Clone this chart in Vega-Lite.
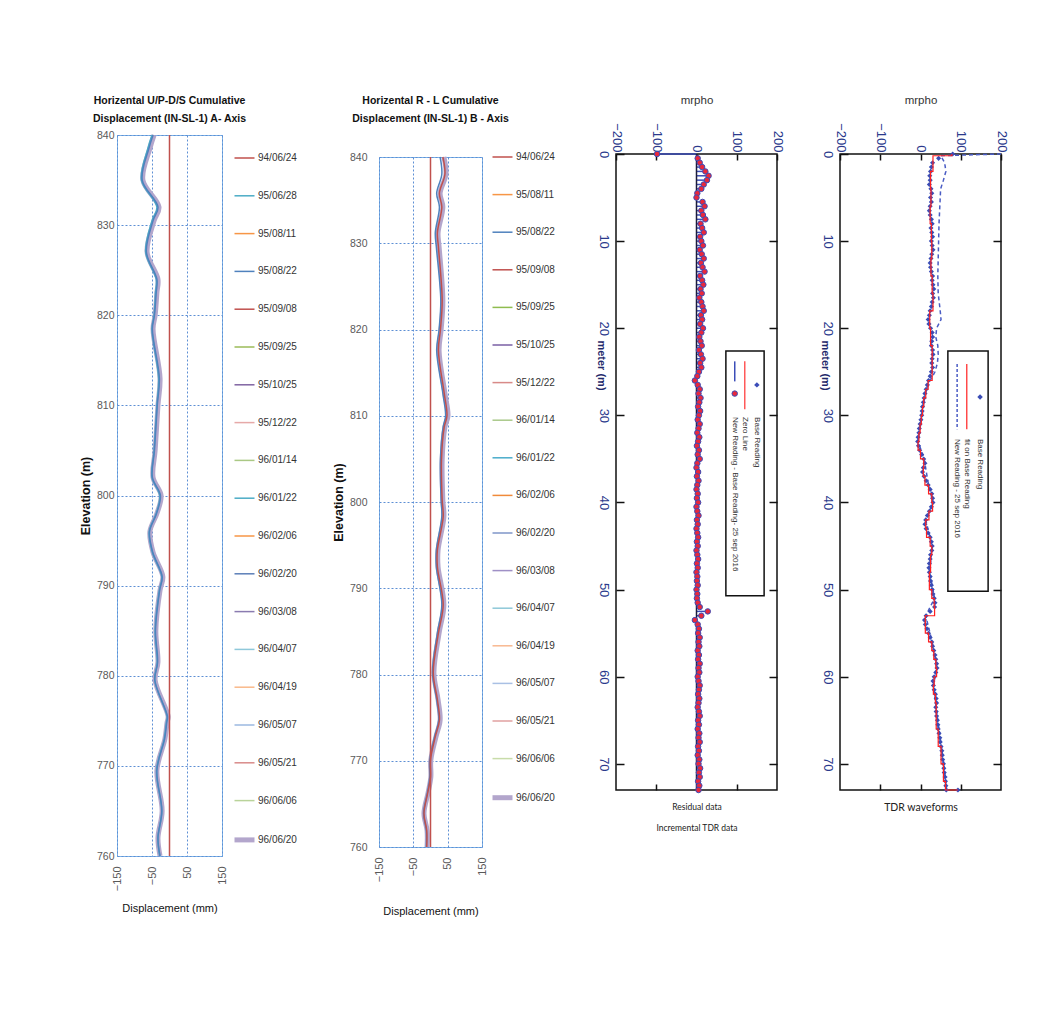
{
"$schema":"https://vega.github.io/schema/vega-lite/v6.json",
"background":"white",
"padding":{"left":78,"top":92,"right":0,"bottom":0},
"spacing":34,
"config":{"font":"Liberation Sans","axis":{"labelFlush":false,"labelOverlap":false,"domain":false,"ticks":false,"grid":false},"legend":{"labelLimit":200}},
"resolve":{"scale":{"color":"independent","strokeWidth":"independent"}},
"datasets":{
"incA":[
{"date":"96/06/20","elev":840,"disp":-44},{"date":"96/06/20","elev":838.5,"disp":-56},{"date":"96/06/20","elev":835,"disp":-76},{"date":"96/06/20","elev":832,"disp":-30},{"date":"96/06/20","elev":830.5,"disp":-44},{"date":"96/06/20","elev":827,"disp":-64},{"date":"96/06/20","elev":824,"disp":-33},{"date":"96/06/20","elev":822.5,"disp":-36},{"date":"96/06/20","elev":820,"disp":-41},{"date":"96/06/20","elev":818.5,"disp":-47},{"date":"96/06/20","elev":813,"disp":-27},{"date":"96/06/20","elev":810,"disp":-33},{"date":"96/06/20","elev":805,"disp":-41},{"date":"96/06/20","elev":802,"disp":-47},{"date":"96/06/20","elev":800,"disp":-24},{"date":"96/06/20","elev":798,"disp":-36},{"date":"96/06/20","elev":796,"disp":-56},{"date":"96/06/20","elev":793.7,"disp":-47},{"date":"96/06/20","elev":791,"disp":-19},{"date":"96/06/20","elev":789.5,"disp":-27},{"date":"96/06/20","elev":785,"disp":-39},{"date":"96/06/20","elev":781.5,"disp":-33},{"date":"96/06/20","elev":779.5,"disp":-41},{"date":"96/06/20","elev":775.5,"disp":-4},{"date":"96/06/20","elev":774.8,"disp":-7},{"date":"96/06/20","elev":773,"disp":-13},{"date":"96/06/20","elev":769.5,"disp":-36},{"date":"96/06/20","elev":765,"disp":-21},{"date":"96/06/20","elev":762,"disp":-33},{"date":"96/06/20","elev":760,"disp":-27},
{"date":"95/06/28","elev":840,"disp":-50},{"date":"95/06/28","elev":838.5,"disp":-62},{"date":"95/06/28","elev":835,"disp":-80},{"date":"95/06/28","elev":832,"disp":-36},{"date":"95/06/28","elev":830.5,"disp":-50},{"date":"95/06/28","elev":827,"disp":-68},{"date":"95/06/28","elev":824,"disp":-38},{"date":"95/06/28","elev":822.5,"disp":-40},{"date":"95/06/28","elev":820,"disp":-44},{"date":"95/06/28","elev":818.5,"disp":-50},{"date":"95/06/28","elev":813,"disp":-31},{"date":"95/06/28","elev":810,"disp":-36},{"date":"95/06/28","elev":805,"disp":-44},{"date":"95/06/28","elev":802,"disp":-50},{"date":"95/06/28","elev":800,"disp":-28},{"date":"95/06/28","elev":798,"disp":-38},{"date":"95/06/28","elev":796,"disp":-58},{"date":"95/06/28","elev":793.7,"disp":-49},{"date":"95/06/28","elev":791,"disp":-22},{"date":"95/06/28","elev":789.5,"disp":-29},{"date":"95/06/28","elev":785,"disp":-41},{"date":"95/06/28","elev":781.5,"disp":-35},{"date":"95/06/28","elev":779.5,"disp":-42},{"date":"95/06/28","elev":775.5,"disp":-7},{"date":"95/06/28","elev":774.8,"disp":-9},{"date":"95/06/28","elev":773,"disp":-15},{"date":"95/06/28","elev":769.5,"disp":-37},{"date":"95/06/28","elev":765,"disp":-22},{"date":"95/06/28","elev":762,"disp":-33},{"date":"95/06/28","elev":760,"disp":-28},
{"date":"95/08/22","elev":840,"disp":-47},{"date":"95/08/22","elev":838.5,"disp":-59},{"date":"95/08/22","elev":835,"disp":-78},{"date":"95/08/22","elev":832,"disp":-33},{"date":"95/08/22","elev":830.5,"disp":-47},{"date":"95/08/22","elev":827,"disp":-66},{"date":"95/08/22","elev":824,"disp":-36},{"date":"95/08/22","elev":822.5,"disp":-38},{"date":"95/08/22","elev":820,"disp":-43},{"date":"95/08/22","elev":818.5,"disp":-49},{"date":"95/08/22","elev":813,"disp":-29},{"date":"95/08/22","elev":810,"disp":-35},{"date":"95/08/22","elev":805,"disp":-43},{"date":"95/08/22","elev":802,"disp":-49},{"date":"95/08/22","elev":800,"disp":-26},{"date":"95/08/22","elev":798,"disp":-37},{"date":"95/08/22","elev":796,"disp":-57},{"date":"95/08/22","elev":793.7,"disp":-48},{"date":"95/08/22","elev":791,"disp":-21},{"date":"95/08/22","elev":789.5,"disp":-28},{"date":"95/08/22","elev":785,"disp":-40},{"date":"95/08/22","elev":781.5,"disp":-34},{"date":"95/08/22","elev":779.5,"disp":-42},{"date":"95/08/22","elev":775.5,"disp":-6},{"date":"95/08/22","elev":774.8,"disp":-8},{"date":"95/08/22","elev":773,"disp":-14},{"date":"95/08/22","elev":769.5,"disp":-36},{"date":"95/08/22","elev":765,"disp":-22},{"date":"95/08/22","elev":762,"disp":-33},{"date":"95/08/22","elev":760,"disp":-27},
{"date":"94/06/24","elev":840,"disp":0},{"date":"94/06/24","elev":760,"disp":0}
],
"incB":[
{"date":"96/06/20","elev":840,"disp":39},{"date":"96/06/20","elev":838,"disp":45},{"date":"96/06/20","elev":835.8,"disp":28},{"date":"96/06/20","elev":834.2,"disp":36},{"date":"96/06/20","elev":831.2,"disp":22},{"date":"96/06/20","elev":829.6,"disp":25},{"date":"96/06/20","elev":823.4,"disp":36},{"date":"96/06/20","elev":820,"disp":31},{"date":"96/06/20","elev":817.6,"disp":25},{"date":"96/06/20","elev":812.6,"disp":42},{"date":"96/06/20","elev":810,"disp":51},{"date":"96/06/20","elev":808.7,"disp":42},{"date":"96/06/20","elev":804.9,"disp":34},{"date":"96/06/20","elev":800.2,"disp":36},{"date":"96/06/20","elev":798.3,"disp":39},{"date":"96/06/20","elev":794.4,"disp":22},{"date":"96/06/20","elev":792.5,"disp":22},{"date":"96/06/20","elev":788.1,"disp":39},{"date":"96/06/20","elev":784.8,"disp":25},{"date":"96/06/20","elev":780.2,"disp":10},{"date":"96/06/20","elev":777.1,"disp":22},{"date":"96/06/20","elev":774.7,"disp":28},{"date":"96/06/20","elev":772.8,"disp":16},{"date":"96/06/20","elev":770.1,"disp":1},{"date":"96/06/20","elev":768.1,"disp":1},{"date":"96/06/20","elev":766.3,"disp":-7},{"date":"96/06/20","elev":763.9,"disp":-19},{"date":"96/06/20","elev":761.9,"disp":-10},{"date":"96/06/20","elev":760,"disp":-10},
{"date":"95/08/22","elev":840,"disp":28},{"date":"95/08/22","elev":838,"disp":33},{"date":"95/08/22","elev":835.8,"disp":18},{"date":"95/08/22","elev":834.2,"disp":26},{"date":"95/08/22","elev":831.2,"disp":14},{"date":"95/08/22","elev":829.6,"disp":17},{"date":"95/08/22","elev":823.4,"disp":30},{"date":"95/08/22","elev":820,"disp":25},{"date":"95/08/22","elev":817.6,"disp":18},{"date":"95/08/22","elev":812.6,"disp":36},{"date":"95/08/22","elev":810,"disp":44},{"date":"95/08/22","elev":808.7,"disp":37},{"date":"95/08/22","elev":804.9,"disp":29},{"date":"95/08/22","elev":800.2,"disp":31},{"date":"95/08/22","elev":798.3,"disp":33},{"date":"95/08/22","elev":794.4,"disp":17},{"date":"95/08/22","elev":792.5,"disp":17},{"date":"95/08/22","elev":788.1,"disp":33},{"date":"95/08/22","elev":784.8,"disp":20},{"date":"95/08/22","elev":780.2,"disp":6},{"date":"95/08/22","elev":777.1,"disp":18},{"date":"95/08/22","elev":774.7,"disp":24},{"date":"95/08/22","elev":772.8,"disp":12},{"date":"95/08/22","elev":770.1,"disp":-2},{"date":"95/08/22","elev":768.1,"disp":-2},{"date":"95/08/22","elev":766.3,"disp":-9},{"date":"95/08/22","elev":763.9,"disp":-20},{"date":"95/08/22","elev":761.9,"disp":-12},{"date":"95/08/22","elev":760,"disp":-12},
{"date":"95/09/08","elev":840,"disp":36},{"date":"95/09/08","elev":838,"disp":42},{"date":"95/09/08","elev":835.8,"disp":26},{"date":"95/09/08","elev":834.2,"disp":33},{"date":"95/09/08","elev":831.2,"disp":20},{"date":"95/09/08","elev":829.6,"disp":23},{"date":"95/09/08","elev":823.4,"disp":34},{"date":"95/09/08","elev":820,"disp":29},{"date":"95/09/08","elev":817.6,"disp":23},{"date":"95/09/08","elev":812.6,"disp":40},{"date":"95/09/08","elev":810,"disp":48},{"date":"95/09/08","elev":808.7,"disp":40},{"date":"95/09/08","elev":804.9,"disp":32},{"date":"95/09/08","elev":800.2,"disp":34},{"date":"95/09/08","elev":798.3,"disp":37},{"date":"95/09/08","elev":794.4,"disp":20},{"date":"95/09/08","elev":792.5,"disp":20},{"date":"95/09/08","elev":788.1,"disp":37},{"date":"95/09/08","elev":784.8,"disp":23},{"date":"95/09/08","elev":780.2,"disp":8},{"date":"95/09/08","elev":777.1,"disp":20},{"date":"95/09/08","elev":774.7,"disp":26},{"date":"95/09/08","elev":772.8,"disp":14},{"date":"95/09/08","elev":770.1,"disp":0},{"date":"95/09/08","elev":768.1,"disp":0},{"date":"95/09/08","elev":766.3,"disp":-8},{"date":"95/09/08","elev":763.9,"disp":-19},{"date":"95/09/08","elev":761.9,"disp":-11},{"date":"95/09/08","elev":760,"disp":-11},
{"date":"94/06/24","elev":840,"disp":0},{"date":"94/06/24","elev":760,"disp":0}
],
"res":[
{"m":0,"v":-98},{"m":0.5,"v":3},{"m":1,"v":8},{"m":1.5,"v":14},{"m":2,"v":22},{"m":2.5,"v":30},{"m":3,"v":26},{"m":3.5,"v":18},{"m":4,"v":12},{"m":4.5,"v":2},{"m":5,"v":0},{"m":5.5,"v":15},{"m":6,"v":20},{"m":6.5,"v":12},{"m":7,"v":16},{"m":7.5,"v":22},{"m":8,"v":10},{"m":8.5,"v":14},{"m":9,"v":18},{"m":9.5,"v":9},{"m":10,"v":12},{"m":10.5,"v":16},{"m":11,"v":8},{"m":11.5,"v":13},{"m":12,"v":18},{"m":12.5,"v":11},{"m":13,"v":15},{"m":13.5,"v":20},{"m":14,"v":9},{"m":14.5,"v":14},{"m":15,"v":17},{"m":15.5,"v":10},{"m":16,"v":13},{"m":16.5,"v":7},{"m":17,"v":12},{"m":17.5,"v":15},{"m":18,"v":18},{"m":18.5,"v":11},{"m":19,"v":14},{"m":19.5,"v":9},{"m":20,"v":16},{"m":20.5,"v":12},{"m":21,"v":7},{"m":21.5,"v":10},{"m":22,"v":13},{"m":22.5,"v":6},{"m":23,"v":11},{"m":23.5,"v":15},{"m":24,"v":9},{"m":24.5,"v":12},{"m":25,"v":6},{"m":25.5,"v":2},{"m":26,"v":-4},{"m":26.5,"v":3},{"m":27,"v":8},{"m":27.5,"v":5},{"m":28,"v":10},{"m":28.5,"v":7},{"m":29,"v":4},{"m":29.5,"v":9},{"m":30,"v":6},{"m":30.5,"v":3},{"m":31,"v":8},{"m":31.5,"v":5},{"m":32,"v":2},{"m":32.5,"v":7},{"m":33,"v":4},{"m":33.5,"v":1},{"m":34,"v":6},{"m":34.5,"v":3},{"m":35,"v":8},{"m":35.5,"v":2},{"m":36,"v":0},{"m":36.5,"v":4},{"m":37,"v":1},{"m":37.5,"v":5},{"m":38,"v":2},{"m":38.5,"v":0},{"m":39,"v":3},{"m":39.5,"v":1},{"m":40,"v":4},{"m":40.5,"v":0},{"m":41,"v":2},{"m":41.5,"v":5},{"m":42,"v":1},{"m":42.5,"v":3},{"m":43,"v":0},{"m":43.5,"v":2},{"m":44,"v":4},{"m":44.5,"v":1},{"m":45,"v":3},{"m":45.5,"v":0},{"m":46,"v":2},{"m":46.5,"v":4},{"m":47,"v":1},{"m":47.5,"v":3},{"m":48,"v":0},{"m":48.5,"v":2},{"m":49,"v":1},{"m":49.5,"v":3},{"m":50,"v":0},{"m":50.5,"v":2},{"m":51,"v":1},{"m":51.5,"v":3},{"m":52,"v":8},{"m":52.5,"v":28},{"m":53,"v":12},{"m":53.5,"v":-4},{"m":54,"v":3},{"m":54.5,"v":6},{"m":55,"v":4},{"m":55.5,"v":8},{"m":56,"v":5},{"m":56.5,"v":7},{"m":57,"v":3},{"m":57.5,"v":6},{"m":58,"v":4},{"m":58.5,"v":8},{"m":59,"v":5},{"m":59.5,"v":7},{"m":60,"v":3},{"m":60.5,"v":5},{"m":61,"v":8},{"m":61.5,"v":6},{"m":62,"v":4},{"m":62.5,"v":7},{"m":63,"v":5},{"m":63.5,"v":3},{"m":64,"v":6},{"m":64.5,"v":8},{"m":65,"v":4},{"m":65.5,"v":6},{"m":66,"v":3},{"m":66.5,"v":7},{"m":67,"v":5},{"m":67.5,"v":8},{"m":68,"v":4},{"m":68.5,"v":6},{"m":69,"v":3},{"m":69.5,"v":7},{"m":70,"v":5},{"m":70.5,"v":9},{"m":71,"v":6},{"m":71.5,"v":8},{"m":72,"v":4},{"m":72.5,"v":7},{"m":73,"v":5}
],
"base":[
{"m":0,"v":80},{"m":0.5,"v":45},{"m":1,"v":30},{"m":1.5,"v":27},{"m":2,"v":25},{"m":2.5,"v":23},{"m":3,"v":24},{"m":3.5,"v":22},{"m":4,"v":26},{"m":4.5,"v":28},{"m":5,"v":25},{"m":5.5,"v":27},{"m":6,"v":24},{"m":6.5,"v":22},{"m":7,"v":24},{"m":7.5,"v":27},{"m":8,"v":29},{"m":8.5,"v":26},{"m":9,"v":28},{"m":9.5,"v":30},{"m":10,"v":27},{"m":10.5,"v":29},{"m":11,"v":31},{"m":11.5,"v":28},{"m":12,"v":26},{"m":12.5,"v":24},{"m":13,"v":25},{"m":13.5,"v":27},{"m":14,"v":30},{"m":14.5,"v":29},{"m":15,"v":31},{"m":15.5,"v":33},{"m":16,"v":30},{"m":16.5,"v":32},{"m":17,"v":29},{"m":17.5,"v":27},{"m":18,"v":24},{"m":18.5,"v":22},{"m":19,"v":19},{"m":19.5,"v":21},{"m":20,"v":25},{"m":20.5,"v":29},{"m":21,"v":30},{"m":21.5,"v":28},{"m":22,"v":27},{"m":22.5,"v":30},{"m":23,"v":31},{"m":23.5,"v":29},{"m":24,"v":28},{"m":24.5,"v":30},{"m":25,"v":27},{"m":25.5,"v":24},{"m":26,"v":20},{"m":26.5,"v":17},{"m":27,"v":14},{"m":27.5,"v":11},{"m":28,"v":9},{"m":28.5,"v":7},{"m":29,"v":5},{"m":29.5,"v":4},{"m":30,"v":3},{"m":30.5,"v":1},{"m":31,"v":-1},{"m":31.5,"v":-3},{"m":32,"v":-4},{"m":32.5,"v":-6},{"m":33,"v":-7},{"m":33.5,"v":-5},{"m":34,"v":-2},{"m":34.5,"v":3},{"m":35,"v":8},{"m":35.5,"v":11},{"m":36,"v":7},{"m":36.5,"v":5},{"m":37,"v":9},{"m":37.5,"v":14},{"m":38,"v":19},{"m":38.5,"v":24},{"m":39,"v":28},{"m":39.5,"v":30},{"m":40,"v":31},{"m":40.5,"v":27},{"m":41,"v":22},{"m":41.5,"v":17},{"m":42,"v":13},{"m":42.5,"v":11},{"m":43,"v":14},{"m":43.5,"v":19},{"m":44,"v":24},{"m":44.5,"v":27},{"m":45,"v":29},{"m":45.5,"v":28},{"m":46,"v":25},{"m":46.5,"v":24},{"m":47,"v":22},{"m":47.5,"v":21},{"m":48,"v":22},{"m":48.5,"v":24},{"m":49,"v":25},{"m":49.5,"v":27},{"m":50,"v":29},{"m":50.5,"v":31},{"m":51,"v":34},{"m":51.5,"v":36},{"m":52,"v":35},{"m":52.5,"v":24},{"m":53,"v":14},{"m":53.5,"v":10},{"m":54,"v":12},{"m":54.5,"v":16},{"m":55,"v":20},{"m":55.5,"v":24},{"m":56,"v":28},{"m":56.5,"v":30},{"m":57,"v":33},{"m":57.5,"v":36},{"m":58,"v":38},{"m":58.5,"v":40},{"m":59,"v":41},{"m":59.5,"v":38},{"m":60,"v":34},{"m":60.5,"v":31},{"m":61,"v":32},{"m":61.5,"v":34},{"m":62,"v":37},{"m":62.5,"v":39},{"m":63,"v":40},{"m":63.5,"v":38},{"m":64,"v":39},{"m":64.5,"v":40},{"m":65,"v":42},{"m":65.5,"v":43},{"m":66,"v":44},{"m":66.5,"v":46},{"m":67,"v":48},{"m":67.5,"v":49},{"m":68,"v":51},{"m":68.5,"v":53},{"m":69,"v":54},{"m":69.5,"v":55},{"m":70,"v":57},{"m":70.5,"v":58},{"m":71,"v":59},{"m":71.5,"v":61},{"m":72,"v":62},{"m":72.5,"v":63},{"m":73,"v":64},{"m":73,"v":93}
],
"fit":[
{"m":0,"v":78},{"m":0.2,"v":31},{"m":2,"v":25},{"m":4,"v":26},{"m":6,"v":24},{"m":8,"v":27},{"m":10,"v":28},{"m":12,"v":26},{"m":14,"v":29},{"m":16,"v":31},{"m":18,"v":23},{"m":20,"v":25},{"m":22,"v":29},{"m":24,"v":29},{"m":26,"v":19},{"m":27,"v":13},{"m":28,"v":8},{"m":29,"v":5},{"m":30,"v":2},{"m":31,"v":-1},{"m":32,"v":-4},{"m":33,"v":-6},{"m":34,"v":0},{"m":35,"v":8},{"m":36,"v":7},{"m":37,"v":11},{"m":38,"v":20},{"m":39,"v":28},{"m":40,"v":30},{"m":41,"v":21},{"m":42,"v":13},{"m":43,"v":15},{"m":44,"v":24},{"m":45,"v":28},{"m":46,"v":25},{"m":48,"v":22},{"m":50,"v":28},{"m":51,"v":34},{"m":52,"v":35},{"m":53,"v":12},{"m":54,"v":12},{"m":55,"v":20},{"m":56,"v":28},{"m":57,"v":33},{"m":58,"v":38},{"m":59,"v":40},{"m":60,"v":34},{"m":61,"v":32},{"m":62,"v":37},{"m":63,"v":39},{"m":64,"v":39},{"m":66,"v":44},{"m":68,"v":51},{"m":70,"v":57},{"m":72,"v":62},{"m":73,"v":64},{"m":73,"v":93}
],
"newr":[
{"m":0,"v":200},{"m":0.2,"v":50},{"m":1,"v":60},{"m":2,"v":63},{"m":3,"v":57},{"m":4,"v":50},{"m":6,"v":48},{"m":8,"v":46},{"m":10,"v":45},{"m":12,"v":44},{"m":14,"v":43},{"m":16,"v":44},{"m":18,"v":49},{"m":19,"v":51},{"m":20,"v":40},{"m":21,"v":38},{"m":22,"v":43},{"m":23,"v":44},{"m":24,"v":42},{"m":25,"v":36},{"m":26,"v":24},{"m":27,"v":15},{"m":28,"v":10},{"m":30,"v":4},{"m":32,"v":-3},{"m":33,"v":-6},{"m":35,"v":9},{"m":38,"v":20},{"m":40,"v":31},{"m":42,"v":13},{"m":45,"v":29},{"m":48,"v":23},{"m":51,"v":35},{"m":53,"v":13},{"m":56,"v":29},{"m":59,"v":41},{"m":61,"v":32},{"m":64,"v":40},{"m":67,"v":49},{"m":70,"v":58},{"m":73,"v":65}
],
"none":[]
},
"hconcat":[
{"spacing":0,"vconcat":[
{"width":1,"height":3,"data":{"name":"none"},"mark":"point","view":{"stroke":null}},
{
"width":105,"height":721,
"view":{"stroke":"#7db3e8","strokeWidth":1},
"title":{"text":["Horizental U/P-D/S Cumulative","Displacement (IN-SL-1) A- Axis"],"fontSize":10.5,"fontWeight":"bold","lineHeight":18,"offset":1,"color":"#111","anchor":"middle"},
"encoding":{
"x":{"field":"disp","type":"quantitative","scale":{"domain":[-150,150],"nice":false,"zero":false},"axis":{"values":[-150,-50,50,150],"labelAngle":-90,"labelFontSize":11,"labelColor":"#595959","labelPadding":10,"grid":true,"gridColor":"#5d8fd4","gridDash":[2,2],"gridWidth":1,"title":"Displacement  (mm)","titleFontSize":11,"titleFontWeight":"normal","titleColor":"#111","titlePadding":12}},
"y":{"field":"elev","type":"quantitative","scale":{"domain":[760,840],"nice":false,"zero":false},"axis":{"values":[760,770,780,790,800,810,820,830,840],"labelFontSize":10.5,"labelColor":"#595959","labelPadding":3,"grid":true,"gridColor":"#5d8fd4","gridDash":[2,2],"gridWidth":1,"title":"Elevation (m)","titleFontSize":12.5,"titleFontWeight":"bold","titleColor":"#111","titlePadding":4}}
},
"layer":[
{"data":{"name":"incA"},"mark":{"type":"line","interpolate":"catmull-rom"},
"encoding":{
"color":{"field":"date","type":"nominal","sort":null,"scale":{"domain":["94/06/24","95/06/28","95/08/11","95/08/22","95/09/08","95/09/25","95/10/25","95/12/22","96/01/14","96/01/22","96/02/06","96/02/20","96/03/08","96/04/07","96/04/19","96/05/07","96/05/21","96/06/06","96/06/20"],"range":["#c0504d","#4bacc6","#f79646","#4f81bd","#c0504d","#9bbb59","#8064a2","#e6a9a8","#aac884","#4bacc6","#f79646","#5b7fb8","#8a7bb0","#8fc8da","#f9b98a","#9bb8e0","#d98b89","#b9d39a","#b3a6cc"]},"legend":{"orient":"none","legendX":115,"legendY":55,"padding":0,"title":null,"symbolType":"stroke","symbolSize":400,"labelFontSize":10,"labelColor":"#333","rowPadding":21.8,"labelOffset":1}},
"strokeWidth":{"field":"date","type":"nominal","sort":null,"scale":{"type":"ordinal","domain":["94/06/24","95/06/28","95/08/11","95/08/22","95/09/08","95/09/25","95/10/25","95/12/22","96/01/14","96/01/22","96/02/06","96/02/20","96/03/08","96/04/07","96/04/19","96/05/07","96/05/21","96/06/06","96/06/20"],"range":[1.5,1.5,1.5,1.5,1.5,1.5,1.5,1.5,1.5,1.5,1.5,1.5,1.5,1.5,1.5,1.5,1.5,1.5,5]},"legend":{"orient":"none","legendX":115,"legendY":55,"padding":0,"title":null,"symbolType":"stroke","symbolSize":400,"labelFontSize":10,"labelColor":"#333","rowPadding":21.8,"labelOffset":1}},
"order":{"field":"elev","type":"quantitative"}}},
{"data":{"values":[{}]},"mark":{"type":"text","text":"D/S - A+","fontSize":10.5,"fontWeight":"bold","color":"#111"},"encoding":{"x":{"datum":58},"y":{"datum":804}}}
]
}]},
{"spacing":0,"vconcat":[
{"width":1,"height":3,"data":{"name":"none"},"mark":"point","view":{"stroke":null}},
{
"width":103,"height":690,
"view":{"stroke":"#7db3e8","strokeWidth":1},
"title":{"text":["Horizental R - L  Cumulative","Displacement (IN-SL-1) B - Axis"],"fontSize":10.5,"fontWeight":"bold","lineHeight":18,"offset":23,"color":"#111","anchor":"middle"},
"encoding":{
"x":{"field":"disp","type":"quantitative","scale":{"domain":[-150,150],"nice":false,"zero":false},"axis":{"values":[-150,-50,50,150],"labelAngle":-90,"labelFontSize":11,"labelColor":"#595959","labelPadding":10,"grid":true,"gridColor":"#5d8fd4","gridDash":[2,2],"gridWidth":1,"title":"Displacement  (mm)","titleFontSize":11,"titleFontWeight":"normal","titleColor":"#111","titlePadding":24}},
"y":{"field":"elev","type":"quantitative","scale":{"domain":[760,840],"nice":false,"zero":false},"axis":{"values":[760,770,780,790,800,810,820,830,840],"labelFontSize":10.5,"labelColor":"#595959","labelPadding":12,"grid":true,"gridColor":"#5d8fd4","gridDash":[2,2],"gridWidth":1,"title":"Elevation (m)","titleFontSize":12.5,"titleFontWeight":"bold","titleColor":"#111","titlePadding":4}}
},
"layer":[
{"data":{"name":"incB"},"mark":{"type":"line","interpolate":"catmull-rom"},
"encoding":{
"color":{"field":"date","type":"nominal","sort":null,"scale":{"domain":["94/06/24","95/08/11","95/08/22","95/09/08","95/09/25","95/10/25","95/12/22","96/01/14","96/01/22","96/02/06","96/02/20","96/03/08","96/04/07","96/04/19","96/05/07","96/05/21","96/06/06","96/06/20"],"range":["#c0504d","#f79646","#4f81bd","#c0504d","#8fbc4f","#7a5fa5","#d88a88","#a9c98a","#4aaccb","#f08a3a","#7f96c8","#9f90c6","#8ec8d8","#f8b890","#a9c0e4","#e0a0a0","#c8dcaa","#b3a6cc"]},"legend":{"orient":"none","legendX":106,"legendY":49,"padding":5,"title":null,"symbolType":"stroke","symbolSize":400,"labelFontSize":10,"labelColor":"#333","rowPadding":21.6,"labelOffset":1}},
"strokeWidth":{"field":"date","type":"nominal","sort":null,"scale":{"type":"ordinal","domain":["94/06/24","95/08/11","95/08/22","95/09/08","95/09/25","95/10/25","95/12/22","96/01/14","96/01/22","96/02/06","96/02/20","96/03/08","96/04/07","96/04/19","96/05/07","96/05/21","96/06/06","96/06/20"],"range":[1.5,1.5,1.5,1.5,1.5,1.5,1.5,1.5,1.5,1.5,1.5,1.5,1.5,1.5,1.5,1.5,1.5,5]},"legend":{"orient":"none","legendX":106,"legendY":49,"padding":5,"title":null,"symbolType":"stroke","symbolSize":400,"labelFontSize":10,"labelColor":"#333","rowPadding":21.6,"labelOffset":1}},
"order":{"field":"elev","type":"quantitative"}}},
{"data":{"values":[{}]},"mark":{"type":"text","text":"R - B+","fontSize":10.5,"fontWeight":"bold","color":"#111"},"encoding":{"x":{"datum":109},"y":{"datum":801.6}}}
]
}]},
{"spacing":0,"vconcat":[
{"width":1,"height":1,"data":{"name":"none"},"mark":"point","view":{"stroke":null}},
{
"width":161,"height":636,
"view":{"stroke":"#111","strokeWidth":1.5},
"resolve":{"axis":{"x":"independent","y":"independent"}},
"layer":[
{"data":{"name":"res"},"mark":{"type":"rule","color":"#3b4db8","strokeWidth":1.5},
"encoding":{
"x":{"field":"v","type":"quantitative","scale":{"domain":[-200,200],"nice":false,"zero":false},"axis":{"orient":"top","values":[-200,-100,0,100,200],"title":"mrpho","titleFontSize":11.5,"titleFontWeight":"normal","titleColor":"#333","titlePadding":17,"labelAngle":90,"labelAlign":"right","labelBaseline":"middle","labelFontSize":13,"labelColor":"#2b3a8c","labelPadding":8,"ticks":true,"tickSize":-6,"tickWidth":1.5,"tickColor":"#111"}},
"x2":{"datum":0},
"y":{"field":"m","type":"quantitative","scale":{"domain":[0,73],"nice":false,"zero":false,"reverse":true},"axis":{"orient":"left","values":[0,10,20,30,40,50,60,70],"title":"meter (m)","titleAngle":90,"titleX":-16,"titleY":211,"titleAlign":"center","titleBaseline":"middle","titleFontSize":11,"titleFontWeight":"bold","titleColor":"#1f2a6b","labelAngle":90,"labelAlign":"center","labelBaseline":"top","labelFontSize":13,"labelColor":"#2b3a8c","labelPadding":15,"ticks":true,"tickSize":-8,"tickWidth":1.5,"tickColor":"#111"}}}},
{"data":{"values":[{}]},"mark":{"type":"rule","color":"#1c1c3c","strokeWidth":1.5},
"encoding":{"x":{"datum":0,"axis":null},"y":{"datum":0,"axis":null},"y2":{"datum":73}}},
{"data":{"name":"res"},"mark":{"type":"circle","fill":"#e8283c","stroke":"#3b4db8","strokeWidth":1,"size":30,"opacity":1},
"encoding":{"x":{"field":"v","type":"quantitative","axis":{"orient":"bottom","values":[-100,0,100],"labels":false,"ticks":true,"tickSize":-6,"tickWidth":1.5,"tickColor":"#111","title":["Residual data","Incremental TDR data"],"titleFont":"Lato","titleFontSize":8.5,"titleFontWeight":"normal","titleColor":"#222","titleLineHeight":21,"titlePadding":12}},
"y":{"field":"m","type":"quantitative","axis":{"orient":"right","values":[10,20,30,40,50,60,70],"labels":false,"ticks":true,"tickSize":-8,"tickWidth":1.5,"tickColor":"#111","title":null}}}},
{"data":{"values":[{}]},"mark":{"type":"rect","fill":"white","stroke":"#111","strokeWidth":1.5},
"encoding":{"x":{"datum":73,"axis":null},"x2":{"datum":168},"y":{"datum":22.6,"axis":null},"y2":{"datum":50.7}}},
{"data":{"values":[{}]},"mark":{"type":"point","shape":"diamond","filled":true,"color":"#3b4db8","size":30,"opacity":1},
"encoding":{"x":{"datum":150,"axis":null},"y":{"datum":26.5,"axis":null}}},
{"data":{"values":[{}]},"mark":{"type":"rule","color":"#ff3030","strokeWidth":1.2},
"encoding":{"x":{"datum":120,"axis":null},"y":{"datum":23.8,"axis":null},"y2":{"datum":29.3}}},
{"data":{"values":[{}]},"mark":{"type":"rule","color":"#3b4db8","strokeWidth":1.5},
"encoding":{"x":{"datum":95,"axis":null},"y":{"datum":23.8,"axis":null},"y2":{"datum":26.1}}},
{"data":{"values":[{}]},"mark":{"type":"circle","fill":"#e8283c","stroke":"#3b4db8","strokeWidth":1,"size":30,"opacity":1},
"encoding":{"x":{"datum":95,"axis":null},"y":{"datum":27.5,"axis":null}}},
{"data":{"values":[{"t":"Base Reading","p":150},{"t":"Zero Line","p":120},{"t":"New Reading - Base Reading- 25 sep 2016","p":95}]},"mark":{"type":"text","angle":90,"align":"left","baseline":"middle","fontSize":8,"color":"#333"},
"encoding":{"text":{"field":"t"},"x":{"field":"p","type":"quantitative","axis":null},"y":{"datum":30.2,"axis":null}}}
]
}]},
{"spacing":0,"vconcat":[
{"width":1,"height":1,"data":{"name":"none"},"mark":"point","view":{"stroke":null}},
{
"width":161,"height":636,
"view":{"stroke":"#111","strokeWidth":1.5},
"resolve":{"axis":{"x":"independent","y":"independent"}},
"layer":[
{"data":{"name":"newr"},"mark":{"type":"line","color":"#4a5cc4","strokeWidth":1.5,"strokeDash":[4,3]},
"encoding":{
"x":{"field":"v","type":"quantitative","scale":{"domain":[-200,200],"nice":false,"zero":false},"axis":{"orient":"top","values":[-200,-100,0,100,200],"title":"mrpho","titleFontSize":11.5,"titleFontWeight":"normal","titleColor":"#333","titlePadding":17,"labelAngle":90,"labelAlign":"right","labelBaseline":"middle","labelFontSize":13,"labelColor":"#2b3a8c","labelPadding":8,"ticks":true,"tickSize":-6,"tickWidth":1.5,"tickColor":"#111"}},
"y":{"field":"m","type":"quantitative","scale":{"domain":[0,73],"nice":false,"zero":false,"reverse":true},"axis":{"orient":"left","values":[0,10,20,30,40,50,60,70],"title":"meter (m)","titleAngle":90,"titleX":-16,"titleY":211,"titleAlign":"center","titleBaseline":"middle","titleFontSize":11,"titleFontWeight":"bold","titleColor":"#1f2a6b","labelAngle":90,"labelAlign":"center","labelBaseline":"top","labelFontSize":13,"labelColor":"#2b3a8c","labelPadding":15,"ticks":true,"tickSize":-8,"tickWidth":1.5,"tickColor":"#111"}},
"order":{"field":"m","type":"quantitative"}}},
{"data":{"name":"base"},"mark":{"type":"point","shape":"diamond","filled":true,"color":"#3a4cb5","size":26,"opacity":1},
"encoding":{"x":{"field":"v","type":"quantitative","axis":{"orient":"bottom","values":[-100,0,100],"labels":false,"ticks":true,"tickSize":-6,"tickWidth":1.5,"tickColor":"#111","title":"TDR waveforms","titleFont":"Lato","titleFontSize":10.5,"titleFontWeight":"normal","titleColor":"#222","titlePadding":12}},
"y":{"field":"m","type":"quantitative","axis":{"orient":"right","values":[10,20,30,40,50,60,70],"labels":false,"ticks":true,"tickSize":-8,"tickWidth":1.5,"tickColor":"#111","title":null}}}},
{"data":{"name":"fit"},"mark":{"type":"line","color":"#ff2020","strokeWidth":1.2,"interpolate":"step-before"},
"encoding":{"x":{"field":"v","type":"quantitative","axis":null},"y":{"field":"m","type":"quantitative","axis":null},"order":{"field":"m","type":"quantitative"}}},
{"data":{"values":[{}]},"mark":{"type":"rect","fill":"white","stroke":"#111","strokeWidth":1.5},
"encoding":{"x":{"datum":68,"axis":null},"x2":{"datum":168},"y":{"datum":22.6,"axis":null},"y2":{"datum":50.2}}},
{"data":{"values":[{}]},"mark":{"type":"point","shape":"diamond","filled":true,"color":"#3a4cb5","size":30,"opacity":1},
"encoding":{"x":{"datum":148,"axis":null},"y":{"datum":27.9,"axis":null}}},
{"data":{"values":[{}]},"mark":{"type":"rule","color":"#ff2020","strokeWidth":1.2},
"encoding":{"x":{"datum":115,"axis":null},"y":{"datum":24.1,"axis":null},"y2":{"datum":31.6}}},
{"data":{"values":[{}]},"mark":{"type":"rule","color":"#4a5cc4","strokeWidth":1.5,"strokeDash":[3,2]},
"encoding":{"x":{"datum":91,"axis":null},"y":{"datum":24.1,"axis":null},"y2":{"datum":31.6}}},
{"data":{"values":[{"t":"Base Reading","p":148},{"t":"fit on Base Reading","p":115},{"t":"New Reading - 25 sep 2016","p":91}]},"mark":{"type":"text","angle":90,"align":"left","baseline":"middle","fontSize":8,"color":"#333"},
"encoding":{"text":{"field":"t"},"x":{"field":"p","type":"quantitative","axis":null},"y":{"datum":32.7,"axis":null}}}
]
}]}
]
}
